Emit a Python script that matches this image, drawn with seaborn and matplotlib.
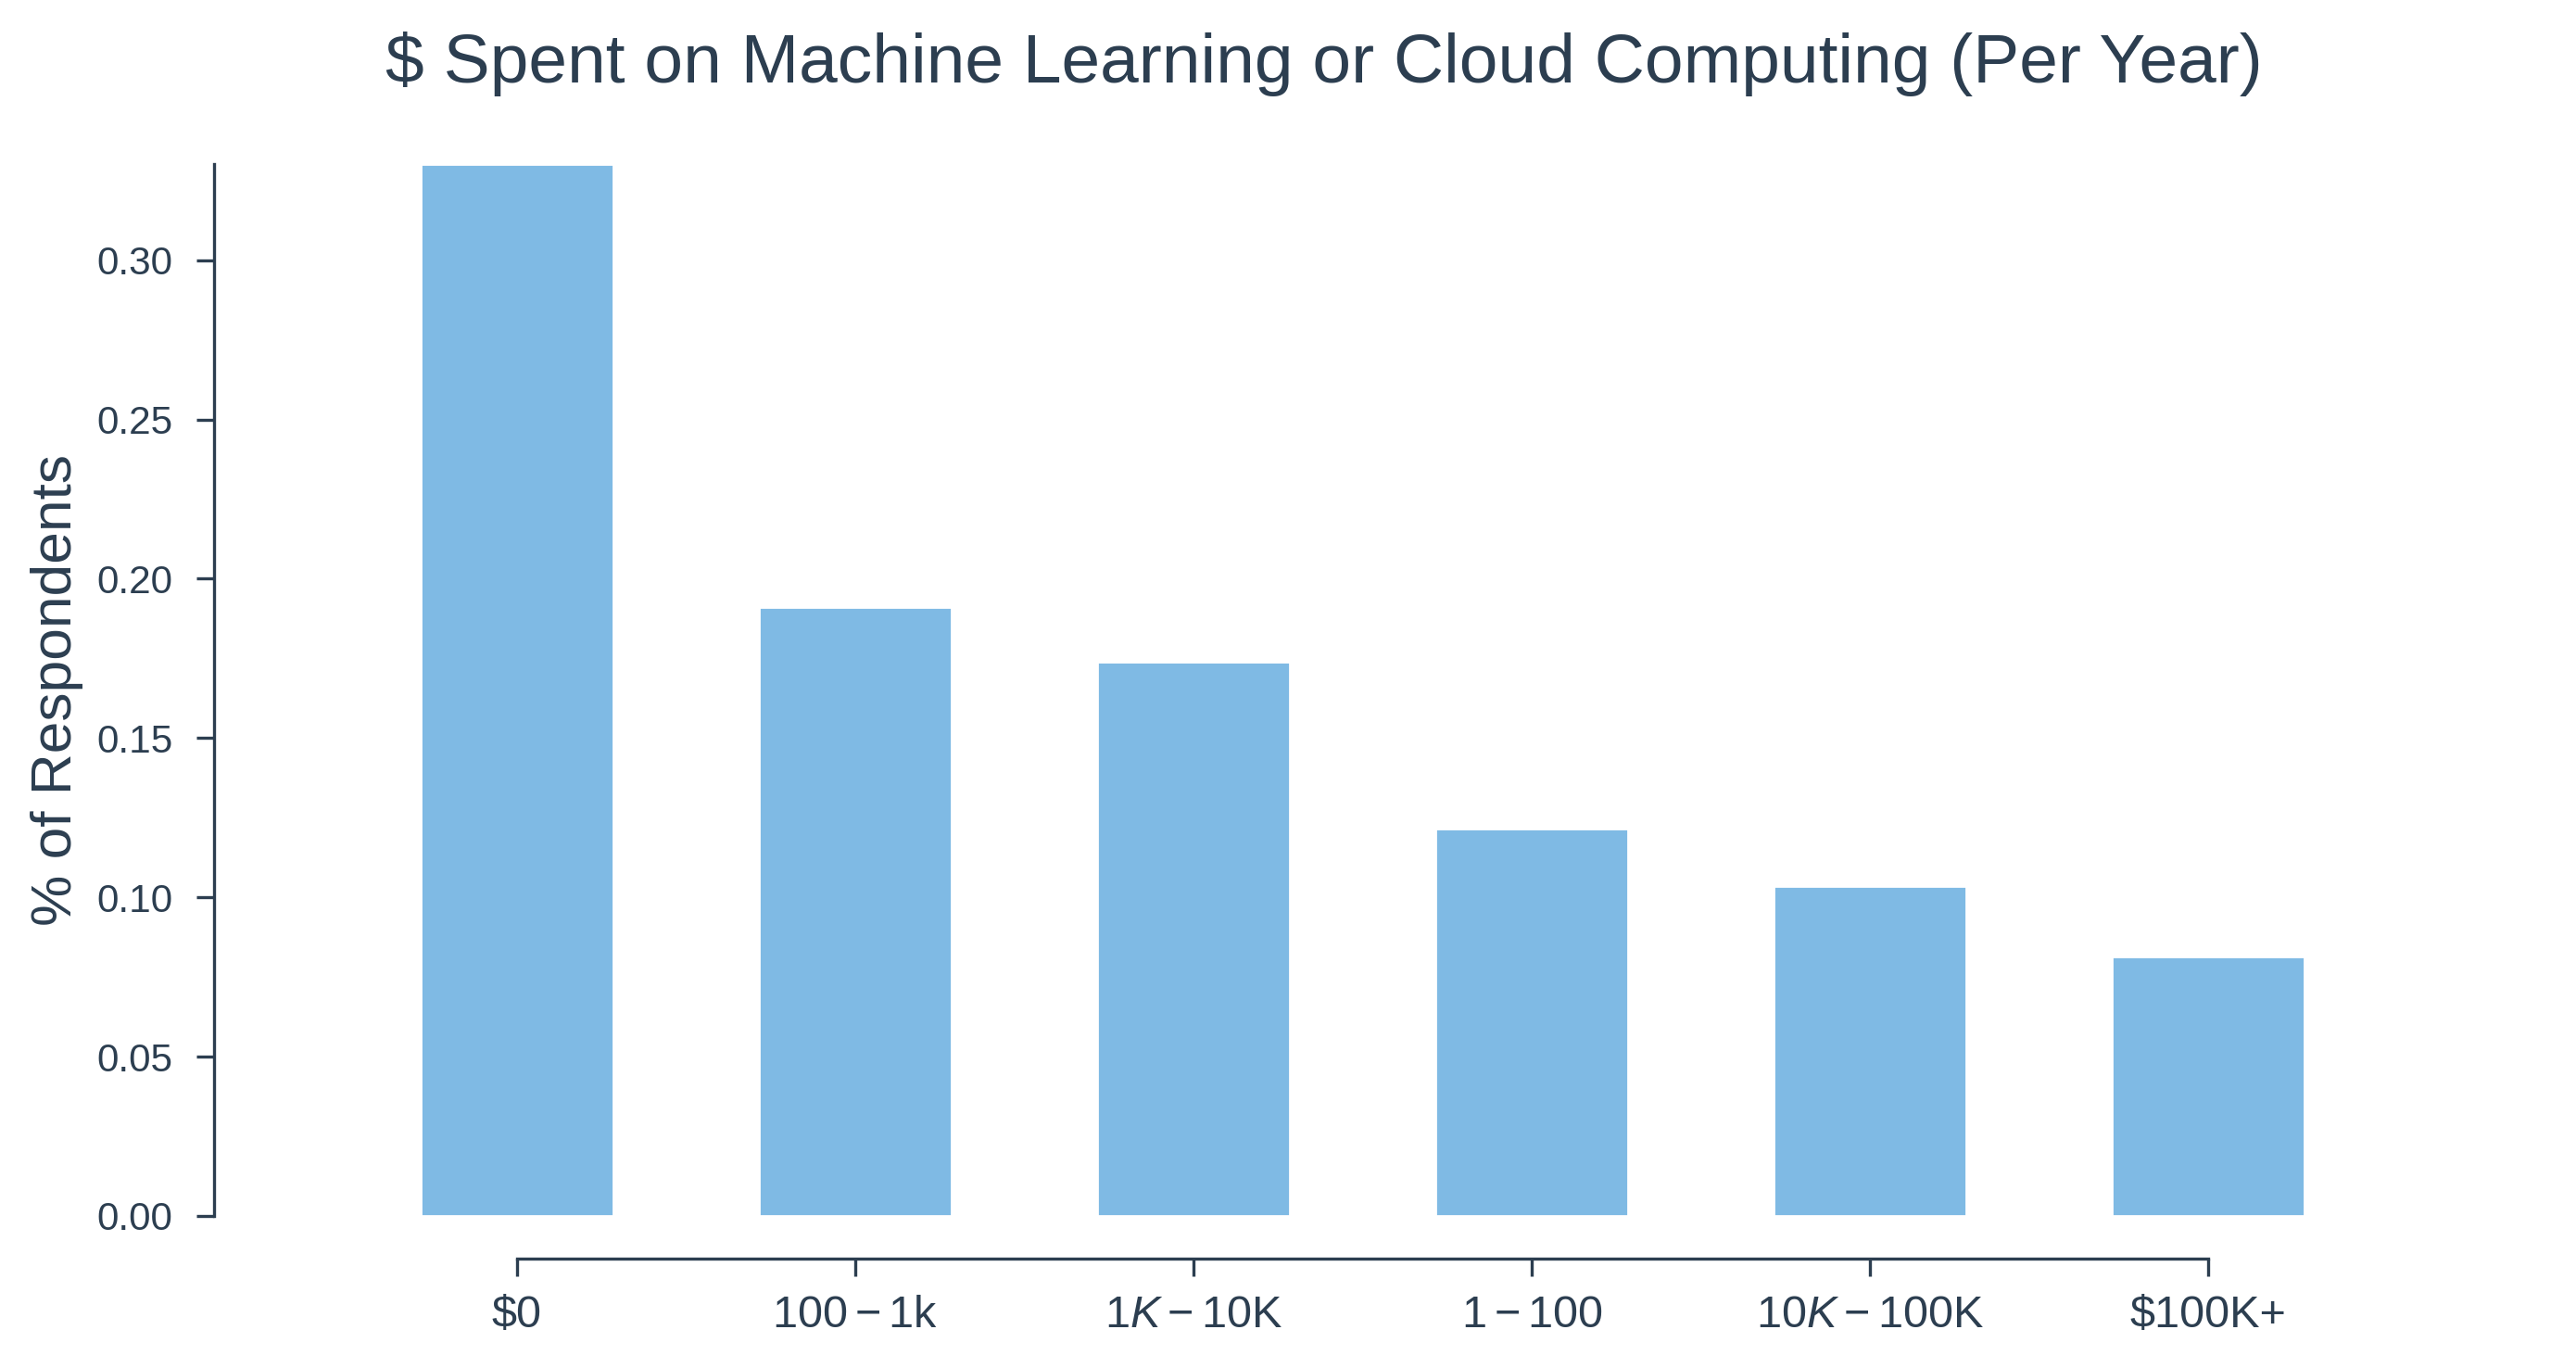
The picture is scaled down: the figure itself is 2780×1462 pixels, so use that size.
import matplotlib
matplotlib.use('Agg')
import matplotlib.pyplot as plt
import seaborn as sns
import pandas as pd

spend_levels = ['$0', '$100-$1k', '$1K-$10K', '$1-$100', '$10K-$100K', '$100K+']
share = [0.330, 0.191, 0.174, 0.1215, 0.1035, 0.0815]

ink = '#2c3e50'
bar_color = '#7fbae4'

sns.set_style('ticks')
plt.rcParams['font.family'] = ['Liberation Sans', 'DejaVu Sans']
plt.rcParams['mathtext.fontset'] = 'custom'
plt.rcParams['mathtext.rm'] = 'Liberation Sans'
plt.rcParams['mathtext.it'] = 'Liberation Sans:italic'
plt.rcParams['text.color'] = ink
plt.rcParams['axes.labelcolor'] = ink
plt.rcParams['xtick.color'] = ink
plt.rcParams['ytick.color'] = ink
plt.rcParams['axes.edgecolor'] = ink

df = pd.DataFrame({'spend': spend_levels, 'share': share})

fig = plt.figure(figsize=(13.9, 7.31), dpi=200)
ax = fig.add_axes([0.135, 0.1026, 0.788, 0.776])
sns.barplot(data=df, x='spend', y='share', color=bar_color, saturation=1,
            width=0.57, ax=ax)

ax.set_xlim(-0.5, 5.5)
ax.set_ylim(0, 0.33)
ax.set_yticks([0, 0.05, 0.10, 0.15, 0.20, 0.25, 0.30])
ax.set_yticklabels(['%.2f' % t for t in ax.get_yticks()])
ax.set_xlabel('')
ax.set_ylabel('% of Respondents', fontsize=22.4, labelpad=5)
ax.set_title('$ Spent on Machine Learning or Cloud Computing (Per Year)',
             fontsize=27, pad=32, x=0.481)

sns.despine(ax=ax)
ax.spines['left'].set_position(('outward', 52))
ax.spines['bottom'].set_position(('outward', 16.6))
ax.spines['bottom'].set_bounds(0, 5)
ax.spines['left'].set_linewidth(1.2)
ax.spines['bottom'].set_linewidth(1.2)
ax.tick_params(axis='y', labelsize=15.2, length=7, width=1.2, pad=9)
ax.tick_params(axis='x', labelsize=17.5, length=7, width=1.2, pad=7)

fig.savefig('out.png', dpi=200)
